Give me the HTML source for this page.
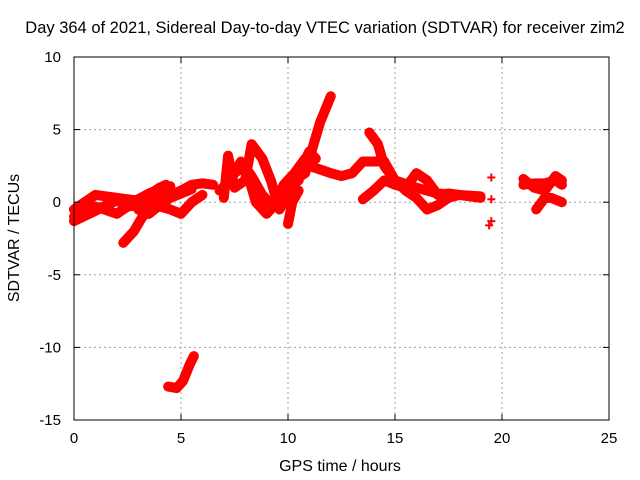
<!DOCTYPE html>
<html><head><meta charset="utf-8"><style>
body{margin:0;background:#fff}
svg{display:block;font-family:"Liberation Sans",sans-serif}
</style></head><body>
<svg id="chart" width="640" height="480">
<rect width="640" height="480" fill="#fff"/>
<text x="325" y="33" font-size="16.5" text-anchor="middle">Day 364 of 2021, Sidereal Day-to-day VTEC variation (SDTVAR) for receiver zim2</text>
<g id="grid"></g><g id="marks"></g><g id="axes"></g>
<text x="340" y="471" font-size="16" text-anchor="middle">GPS time / hours</text>
<text transform="translate(19,238) rotate(-90)" font-size="16" text-anchor="middle">SDTVAR / TECUs</text>
</svg>
<script>
const xTicks=[0,5,10,15,20,25];
const yTicks=[10,5,0,-5,-10,-15];
const trackA_h=[0,0.5,1,2,3,3.5,4,4.3];
const trackA_v=[-0.5,0,0.5,0.3,0.1,0.5,1,1.2];
const trackB_h=[0,0.5,1,2,2.5,3,3.5,4,5,5.5,6,6.5];
const trackB_v=[-1,-0.5,-0.3,-0.8,-0.3,-0.2,0,0.2,0.8,1.2,1.3,1.2];
const trackC_h=[2.3,2.8,3.2,3.6,4,4.5,5,5.5,6];
const trackC_v=[-2.8,-2,-1,-0.5,-0.3,-0.5,-0.8,0,0.5];
const trackD_h=[3,3.5,4,4.5,5,5.5];
const trackD_v=[-0.5,-0.8,-0.2,0.3,0.6,0.9];
const trackD2_h=[0,1,1.5,2,2.5,3,3.5,4,4.5];
const trackD2_v=[-1.3,-0.6,-0.2,0.1,-0.2,0.2,0.6,0.9,1.1];
const trackE_h=[4.4,4.8,5.1,5.4,5.6];
const trackE_v=[-12.7,-12.8,-12.3,-11.2,-10.6];
const trackF_h=[7,7.2,7.5,8,8.3,8.8,9.2,9.6,10,10.5,11,11.3];
const trackF_v=[0.3,3.2,1,1.5,4,3,1.5,-0.5,0.5,2,3.5,3];
const trackG_h=[7,7.5,8,8.5,9,9.5,10,10.5];
const trackG_v=[1,2,2.5,0,-0.8,0,1,1.5];
const trackG2_h=[6.8,7.3,7.8,8.3,8.8,9.3,9.8,10.3,10.8];
const trackG2_v=[0.8,1.5,2.8,1.8,0.5,-0.3,1.2,2,3];
const trackH_h=[9.8,10.3,10.8,11.2,11.5,12];
const trackH_v=[0.5,1.5,2,4,5.5,7.3];
const trackI_h=[10,10.2,10.5];
const trackI_v=[-1.5,0,0.8];
const trackJ_h=[11,12,12.5,13,13.5,14.5,15,16,17,18,19];
const trackJ_v=[2.5,2,1.8,2,2.8,2.8,1.5,1,0.6,0.5,0.4];
const trackK_h=[13.8,14.2,14.5,15,15.5,16,16.5,17,17.5,18];
const trackK_v=[4.8,4,2.5,1.5,0.8,0.3,-0.5,-0.2,0.3,0.5];
const trackL_h=[13.5,14,14.5,15,15.5,16,16.5,17,17.5,18,19];
const trackL_v=[0.2,0.8,1.5,1.2,1,2,1.5,0.5,0.6,0.5,0.3];
const trackM_h=[21,21.5,22,22.5,22.8];
const trackM_v=[1.2,1.3,1.3,1.5,1.2];
const trackM2_h=[21,21.5,22,22.5,22.8];
const trackM2_v=[1.6,1,0.8,1.8,1.5];
const trackN_h=[21.6,22,22.3,22.8];
const trackN_v=[-0.5,0.3,0.3,0];
const outlier_h=[19.5,19.5,19.5,19.4];
const outlier_v=[1.7,0.2,-1.3,-1.6];
const tracks=[[trackA_h,trackA_v],[trackB_h,trackB_v],[trackC_h,trackC_v],[trackD_h,trackD_v],[trackD2_h,trackD2_v],[trackE_h,trackE_v],[trackF_h,trackF_v],[trackG_h,trackG_v],[trackG2_h,trackG2_v],[trackH_h,trackH_v],[trackI_h,trackI_v],[trackJ_h,trackJ_v],[trackK_h,trackK_v],[trackL_h,trackL_v],[trackM_h,trackM_v],[trackM2_h,trackM2_v],[trackN_h,trackN_v]];
const L=74,R=609,T=57,B=420;
const xs=h=>L+(h-0)/25*(R-L);
const ys=v=>T+(10-v)/25*(B-T);
const NS="http://www.w3.org/2000/svg";
function mk(t,a,p){const e=document.createElementNS(NS,t);for(const k in a)e.setAttribute(k,a[k]);p.appendChild(e);return e;}
const grid=document.getElementById('grid'),axes=document.getElementById('axes'),marks=document.getElementById('marks');
xTicks.forEach(t=>{const x=xs(t);
 if(t>0&&t<25){const g=mk('line',{x1:x,x2:x,y1:T,y2:B,stroke:'#a0a0a0','stroke-dasharray':'2,3'},grid);}
 mk('line',{x1:x,x2:x,y1:B,y2:B-6,stroke:'#000'},axes);mk('line',{x1:x,x2:x,y1:T,y2:T+6,stroke:'#000'},axes);
 const l=mk('text',{x:x,y:B+23,'font-size':15,'text-anchor':'middle'},axes);l.textContent=t;
 });
yTicks.forEach(t=>{const y=ys(t);
 if(t>-15&&t<10){const g=mk('line',{x1:L,x2:R,y1:y,y2:y,stroke:'#a0a0a0','stroke-dasharray':'2,3'},grid);}
 mk('line',{x1:L,x2:L+6,y1:y,y2:y,stroke:'#000'},axes);mk('line',{x1:R,x2:R-6,y1:y,y2:y,stroke:'#000'},axes);
 const l=mk('text',{x:L-13,y:y+5,'font-size':15,'text-anchor':'end'},axes);l.textContent=t;
 });
const f=mk('rect',{x:L,y:T,width:R-L,height:B-T,fill:'none',stroke:'#000'},axes);

tracks.forEach(([h,v])=>{
 const pts=h.map((hh,i)=>xs(hh)+','+ys(v[i])).join(' ');
 const p=mk('polyline',{points:pts,fill:'none',stroke:'#f00','stroke-width':10,'stroke-linejoin':'round','stroke-linecap':'round'},marks);
 });
outlier_h.forEach((hh,i)=>{const x=xs(hh),y=ys(outlier_v[i]);
 const p=mk('path',{d:`M${x-4},${y}H${x+4}M${x},${y-4}V${y+4}`,stroke:'#f00','stroke-width':2},marks);
 });
</script>
</body></html>
